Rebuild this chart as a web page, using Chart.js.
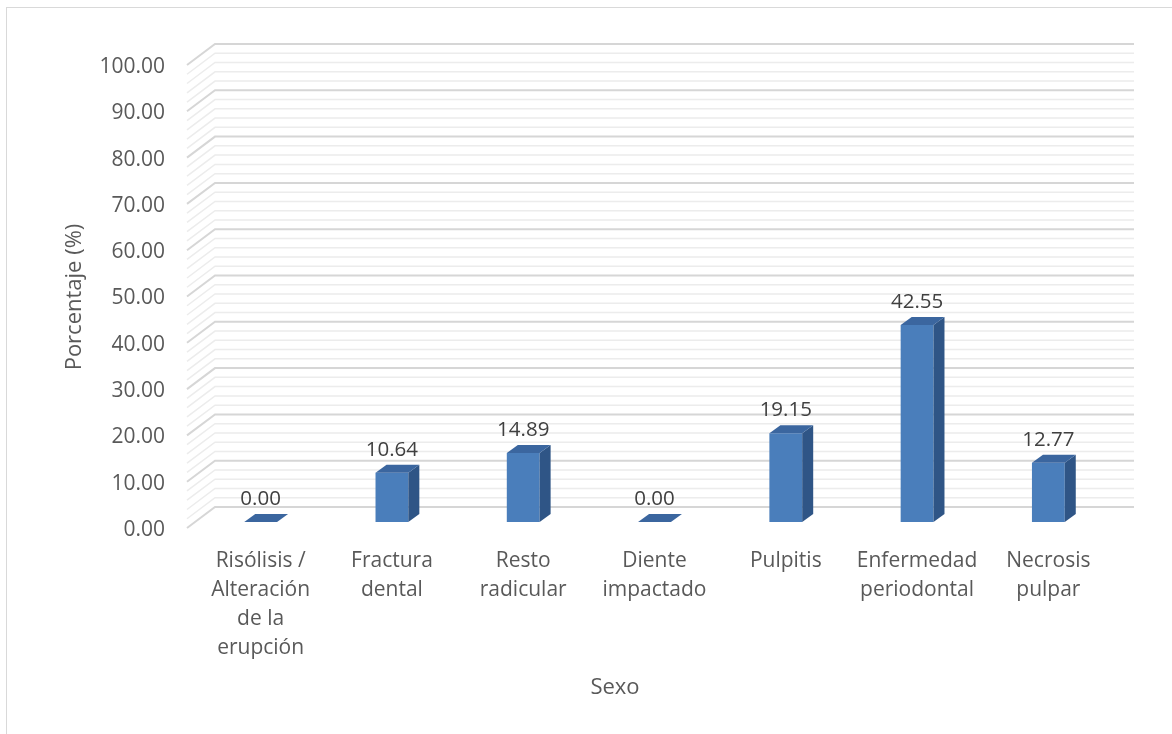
<!DOCTYPE html>
<html>
<head>
<meta charset="utf-8">
<script src="https://cdn.jsdelivr.net/npm/chart.js@4.4.1/dist/chart.umd.min.js"></script>
<style>
  html, body { margin: 0; padding: 0; background: #fff; }
  #wrap { position: relative; width: 1172px; height: 734px; }
</style>
</head>
<body>
<div id="wrap"><canvas id="chart" width="1172" height="734"></canvas></div>
<script>
// values
const categories = [
  ["Risólisis /", "Alteración", "de la", "erupción"],
  ["Fractura", "dental"],
  ["Resto", "radicular"],
  ["Diente", "impactado"],
  ["Pulpitis"],
  ["Enfermedad", "periodontal"],
  ["Necrosis", "pulpar"]
];
const percentages = [0.00, 10.64, 14.89, 0.00, 19.15, 42.55, 12.77];
const yMin = 0, yMax = 100, yStep = 10, yMinorStep = 2;
const xTitle = "Sexo";
const yTitle = "Porcentaje (%)";

const FONT = "'Open Sans', 'Liberation Sans', sans-serif";
const FRONT = "#4a7ebb", SIDE = "#2f5586", TOP = "#3b669f";
// 3d offsets
const BAR_DX = 11, BAR_DY = 8;      // bar depth
const WALL_DX = 20, WALL_DY = 15;   // bar plane -> back wall
const FRONT_DX = 8, FRONT_DY = 6;   // bar plane -> front edge

const wallPlugin = {
  id: "wall",
  beforeDraw(chart) {
    const c = chart.ctx;
    c.save();
    c.strokeStyle = "#d9d9d9";
    c.lineWidth = 1;
    c.strokeRect(6.5, 7.5, 1200, 760);
    c.restore();
  },
  beforeDatasetsDraw(chart) {
    const c = chart.ctx, y = chart.scales.y, area = chart.chartArea;
    const backL = area.left + WALL_DX, backR = area.right + WALL_DX;
    const frontL = area.left - FRONT_DX;
    c.save();
    for (let v = yMin; v <= yMax + 0.001; v += yMinorStep) {
      const major = Math.abs(v % yStep) < 0.001;
      const py = y.getPixelForValue(v);
      c.strokeStyle = major ? "#d6d6d6" : "#ececec";
      c.lineWidth = major ? 2 : 1.5;
      c.beginPath();
      c.moveTo(frontL, py + FRONT_DY);
      c.lineTo(backL, py - WALL_DY);
      c.lineTo(backR, py - WALL_DY);
      c.stroke();
    }
    c.restore();
  },
  afterDatasetsDraw(chart) {
    const c = chart.ctx;
    const meta = chart.getDatasetMeta(0);
    c.save();
    meta.data.forEach((bar, i) => {
      const l = bar.x - bar.width / 2, r = bar.x + bar.width / 2;
      const top = bar.y, base = bar.base;
      // side face
      c.fillStyle = SIDE;
      c.beginPath();
      c.moveTo(r, top);
      c.lineTo(r + BAR_DX, top - BAR_DY);
      c.lineTo(r + BAR_DX, base - BAR_DY);
      c.lineTo(r, base);
      c.closePath();
      c.fill();
      // top face
      c.fillStyle = TOP;
      c.beginPath();
      c.moveTo(l, top);
      c.lineTo(l + BAR_DX, top - BAR_DY);
      c.lineTo(r + BAR_DX, top - BAR_DY);
      c.lineTo(r, top);
      c.closePath();
      c.fill();
      // value label
      c.fillStyle = "#404040";
      c.font = "20.5px " + FONT;
      c.textAlign = "center";
      c.textBaseline = "alphabetic";
      c.fillText(percentages[i].toFixed(2), bar.x, top - BAR_DY - 9);
    });
    // axis titles
    c.fillStyle = "#595959";
    c.font = "22px " + FONT;
    c.textAlign = "center";
    c.textBaseline = "middle";
    c.fillText(xTitle, 615, 688);
    c.translate(75, 297);
    c.rotate(-Math.PI / 2);
    c.fillText(yTitle, 0, 0);
    c.restore();
  }
};

new Chart(document.getElementById("chart"), {
  type: "bar",
  data: {
    labels: categories,
    datasets: [{
      data: percentages,
      backgroundColor: FRONT,
      borderWidth: 0,
      categoryPercentage: 1,
      barPercentage: 0.25
    }]
  },
  options: {
    responsive: false,
    animation: false,
    layout: { padding: { left: 0, right: 58, top: 59, bottom: 0 } },
    plugins: { legend: { display: false }, tooltip: { enabled: false } },
    scales: {
      x: {
        grid: { display: false },
        border: { display: false },
        ticks: {
          color: "#595959",
          font: { size: 21, family: FONT, lineHeight: 1.38 },
          padding: 17,
          maxRotation: 0,
          autoSkip: false
        },
        afterFit(s) { s.height = 734 - 522; }
      },
      y: {
        min: yMin,
        max: yMax,
        grid: { display: false },
        border: { display: false },
        ticks: {
          stepSize: yStep,
          color: "#595959",
          font: { size: 21, family: FONT },
          padding: 22,
          labelOffset: 8,
          callback: v => v.toFixed(2)
        },
        afterFit(s) { s.width = 195; }
      }
    }
  },
  plugins: [wallPlugin]
});
</script>
</body>
</html>
